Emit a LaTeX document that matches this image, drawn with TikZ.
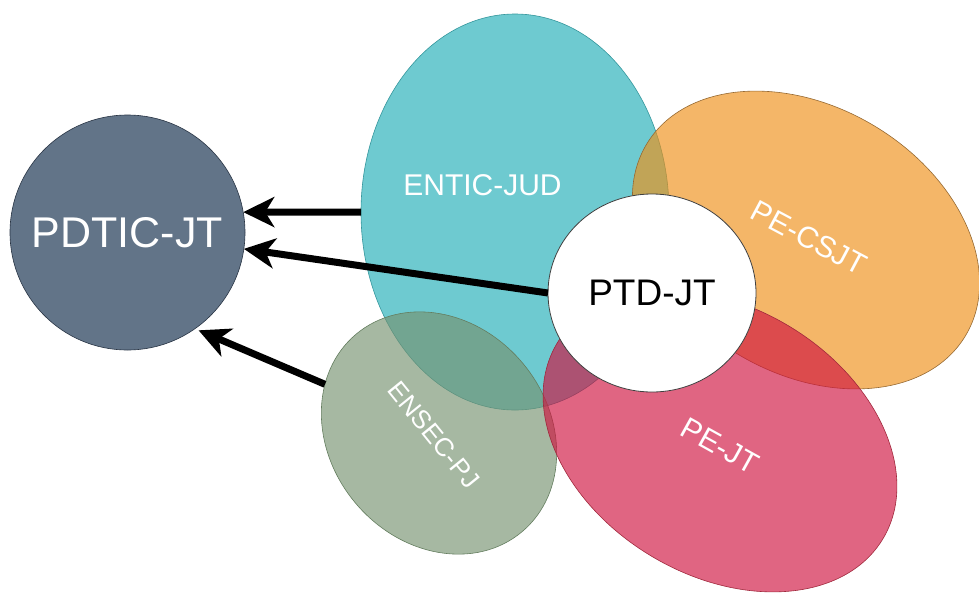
\documentclass[tikz,border=0pt]{standalone}
\usepackage{fontspec}
\setmainfont{Liberation Sans}
\usetikzlibrary{shapes.geometric,arrows.meta}

% fill colours (used with partial fill opacity) and outline colours
\definecolor{tealfill}{RGB}{32,174,183}
\definecolor{tealline}{RGB}{52,150,156}
\definecolor{orangefill}{RGB}{238,143,23}
\definecolor{orangeline}{RGB}{150,105,50}
\definecolor{sagefill}{RGB}{118,146,112}
\definecolor{sageline}{RGB}{100,125,95}
\definecolor{pinkfill}{RGB}{207,18,63}
\definecolor{pinkline}{RGB}{160,40,60}
\definecolor{slatefill}{RGB}{98,116,136}
\definecolor{slateline}{RGB}{40,52,68}

\begin{document}
\begin{tikzpicture}[x=1pt,y=-1pt,
  blob/.style={ellipse, inner sep=0pt, outer sep=0pt, fill opacity=0.65, line width=0.6pt},
  lbl/.style={text=white, inner sep=0pt, font=\fontsize{30}{36}\selectfont},
  arr/.style={line width=7pt, -{Stealth[length=31pt,width=30pt,inset=9pt]}}
]
\useasboundingbox (0,0) rectangle (979,592);

% overlapping areas
\node[blob, fill=tealfill, draw=tealline,
      minimum width=308pt, minimum height=396pt] (entic) at (515,212) {};
\node[blob, fill=orangefill, draw=orangeline, rotate=-31,
      minimum width=372pt, minimum height=266pt] (pecsjt) at (806,240) {};
\node[blob, fill=sagefill, draw=sageline, rotate=-50,
      minimum width=258pt, minimum height=218pt] (ensec) at (439,433) {};
\node[blob, fill=pinkfill, draw=pinkline, rotate=-31,
      minimum width=380pt, minimum height=268pt] (pejt) at (720,441) {};

% central node
\node[ellipse, fill=white, draw=black!75, line width=0.8pt, inner sep=0pt, outer sep=0pt,
      minimum width=208pt, minimum height=198pt,
      font=\fontsize{37}{44}\selectfont] (ptd) at (652,293) {PTD-JT};

% target node
\node[circle, fill=slatefill, draw=slateline, line width=0.6pt, inner sep=0pt, outer sep=0pt,
      minimum size=235pt, text=white,
      font=\fontsize{43}{50}\selectfont] (pdtic) at (127.5,232.5) {PDTIC-JT};

% connectors into PDTIC-JT
\draw[arr] (entic.west) -- (pdtic.10);
\draw[arr] (ptd.west) -- (pdtic.-8.5);
\draw[arr, shorten >=4pt] (ensec) -- (pdtic.-55);

% labels of the areas
\node[lbl] (entic-t) at (482.5,185.5) {ENTIC-JUD};
\node[lbl, rotate=-28] (pecsjt-t) at (809,238) {PE-CSJT};
\node[lbl, rotate=-29] (pejt-t) at (720,446) {PE-JT};
\node[lbl, rotate=-51, font=\fontsize{26}{31}\selectfont] (ensec-t) at (434,435) {ENSEC-PJ};
\end{tikzpicture}
\end{document}
